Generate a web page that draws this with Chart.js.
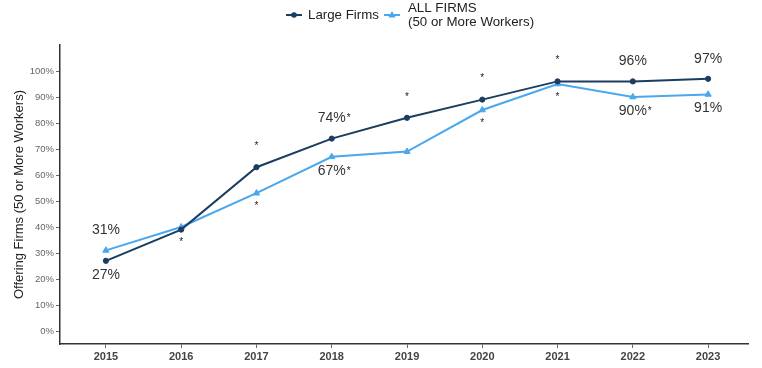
<!DOCTYPE html>
<html>
<head>
<meta charset="utf-8">
<script src="https://cdn.jsdelivr.net/npm/chart.js@4"></script>
<style>
  html, body { margin: 0; padding: 0; background: #fff; }
  #wrap { width: 762px; height: 368px; }
</style>
</head>
<body>
<div id="wrap"><canvas id="chart" width="762" height="368"></canvas></div>
<script>
// chart data
const years = [2015, 2016, 2017, 2018, 2019, 2020, 2021, 2022, 2023]
const largeFirms = [27, 39, 63, 74, 82, 89, 96, 96, 97]
const allFirms = [31, 40, 53, 67, 69, 85, 95, 90, 91]
const yTickValues = [0, 10, 20, 30, 40, 50, 60, 70, 80, 90, 100]
// value labels and significance stars
const labelsAbove = ['31%', '', '', '74%*', '', '', '', '96%', '97%']
const labelsBelow = ['27%', '', '', '67%*', '', '', '', '90%*', '91%']
const starAbove = [false, false, true, false, true, true, true, false, false]
const starBelow = [false, true, true, false, false, true, true, false, false]

const darkBlue = '#1b3d60'
const lightBlue = '#49a7ee'
const FONT = '"Liberation Sans", Arial, sans-serif'

// legend drawn by hand so the two-line label sits like the original
const manualLegend = {
  id: 'manualLegend',
  afterDraw(chart) {
    const ctx = chart.ctx
    const items = [
      { x: 286, lines: ['Large Firms'], ds: 0, shape: 'circle' },
      { x: 384, lines: ['ALL FIRMS', '(50 or More Workers)'], ds: 1, shape: 'triangle' }
    ]
    const my = 15
    ctx.save()
    items.forEach(it => {
      const color = chart.data.datasets[it.ds].borderColor
      ctx.strokeStyle = color
      ctx.fillStyle = color
      ctx.lineWidth = 2
      ctx.beginPath()
      ctx.moveTo(it.x, my)
      ctx.lineTo(it.x + 16, my)
      ctx.stroke()
      ctx.beginPath()
      const cx = it.x + 8
      if (it.shape === 'circle') {
        ctx.arc(cx, my, 2.8, 0, Math.PI * 2)
      } else {
        ctx.moveTo(cx, my - 4)
        ctx.lineTo(cx + 3.6, my + 2.4)
        ctx.lineTo(cx - 3.6, my + 2.4)
        ctx.closePath()
      }
      ctx.fill()
      ctx.fillStyle = '#222'
      ctx.font = '13.3px ' + FONT
      ctx.textAlign = 'left'
      ctx.textBaseline = 'middle'
      if (it.lines.length === 1) {
        ctx.fillText(it.lines[0], it.x + 22, my)
      } else {
        ctx.fillText(it.lines[0], it.x + 24, 8)
        ctx.fillText(it.lines[1], it.x + 24, 22)
      }
    })
    ctx.restore()
  }
}

const valueLabels = {
  id: 'valueLabels',
  afterDatasetsDraw(chart) {
    const ctx = chart.ctx
    const m0 = chart.getDatasetMeta(0).data
    const m1 = chart.getDatasetMeta(1).data
    ctx.save()
    ctx.textBaseline = 'middle'
    years.forEach((yr, i) => {
      const x = m0[i].x
      const top = Math.min(m0[i].y, m1[i].y)
      const bot = Math.max(m0[i].y, m1[i].y)
      const drawLabel = (txt, y) => {
        const star = txt.endsWith('*')
        const main = star ? txt.slice(0, -1) : txt
        ctx.font = '14px ' + FONT
        ctx.fillStyle = '#333'
        ctx.textAlign = 'center'
        ctx.fillText(main, x, y)
        if (star) {
          const w = ctx.measureText(main).width
          ctx.font = '10px ' + FONT
          ctx.fillStyle = '#222'
          ctx.textAlign = 'left'
          ctx.fillText('*', x + w / 2 + 1, y)
        }
      }
      if (labelsAbove[i]) drawLabel(labelsAbove[i], top - 20)
      if (labelsBelow[i]) drawLabel(labelsBelow[i], bot + 14)
      ctx.font = '10px ' + FONT
      ctx.fillStyle = '#222'
      ctx.textAlign = 'center'
      if (starAbove[i]) ctx.fillText('*', x, top - 21)
      if (starBelow[i]) ctx.fillText('*', x, bot + 13)
    })
    ctx.restore()
  }
}

new Chart(document.getElementById('chart'), {
  type: 'line',
  data: {
    datasets: [{
      label: 'Large Firms',
      data: years.map((y, i) => ({ x: y, y: largeFirms[i] })),
      borderColor: darkBlue,
      backgroundColor: darkBlue,
      borderWidth: 2,
      pointStyle: 'circle',
      pointRadius: 2.6,
      pointBorderWidth: 1,
      fill: false,
      tension: 0
    }, {
      label: 'ALL FIRMS (50 or More Workers)',
      data: years.map((y, i) => ({ x: y, y: allFirms[i] })),
      borderColor: lightBlue,
      backgroundColor: lightBlue,
      borderWidth: 2,
      pointStyle: 'triangle',
      pointRadius: 3.6,
      pointBorderWidth: 1,
      fill: false,
      tension: 0
    }]
  },
  options: {
    responsive: false,
    animation: false,
    layout: { padding: { top: 45, right: 14, bottom: 0, left: 4 } },
    scales: {
      x: {
        type: 'linear',
        min: 2014.39,
        max: 2023.53,
        afterBuildTicks: scale => { scale.ticks = years.map(v => ({ value: v })) },
        afterFit: scale => { scale.height = 24 },
        ticks: {
          callback: v => String(v),
          color: '#444',
          font: { family: FONT, size: 11, weight: 'bold' },
          padding: 2,
          maxRotation: 0
        },
        grid: { drawOnChartArea: false, tickLength: 4, color: '#666' },
        border: { color: '#333', width: 1.5 }
      },
      y: {
        min: -5,
        max: 110,
        afterBuildTicks: scale => { scale.ticks = yTickValues.map(v => ({ value: v })) },
        afterFit: scale => { scale.width = 56 },
        ticks: {
          callback: v => v + '%',
          color: '#666',
          font: { family: FONT, size: 9.5 },
          padding: 2
        },
        grid: { drawOnChartArea: false, tickLength: 4, color: '#666' },
        border: { color: '#333', width: 1.5 },
        title: {
          display: true,
          text: 'Offering Firms (50 or More Workers)',
          color: '#222',
          font: { family: FONT, size: 13 },
          padding: { top: 8, bottom: 0 }
        }
      }
    },
    plugins: {
      legend: { display: false },
      title: { display: false },
      tooltip: { enabled: false }
    }
  },
  plugins: [valueLabels, manualLegend]
})
</script>
</body>
</html>
